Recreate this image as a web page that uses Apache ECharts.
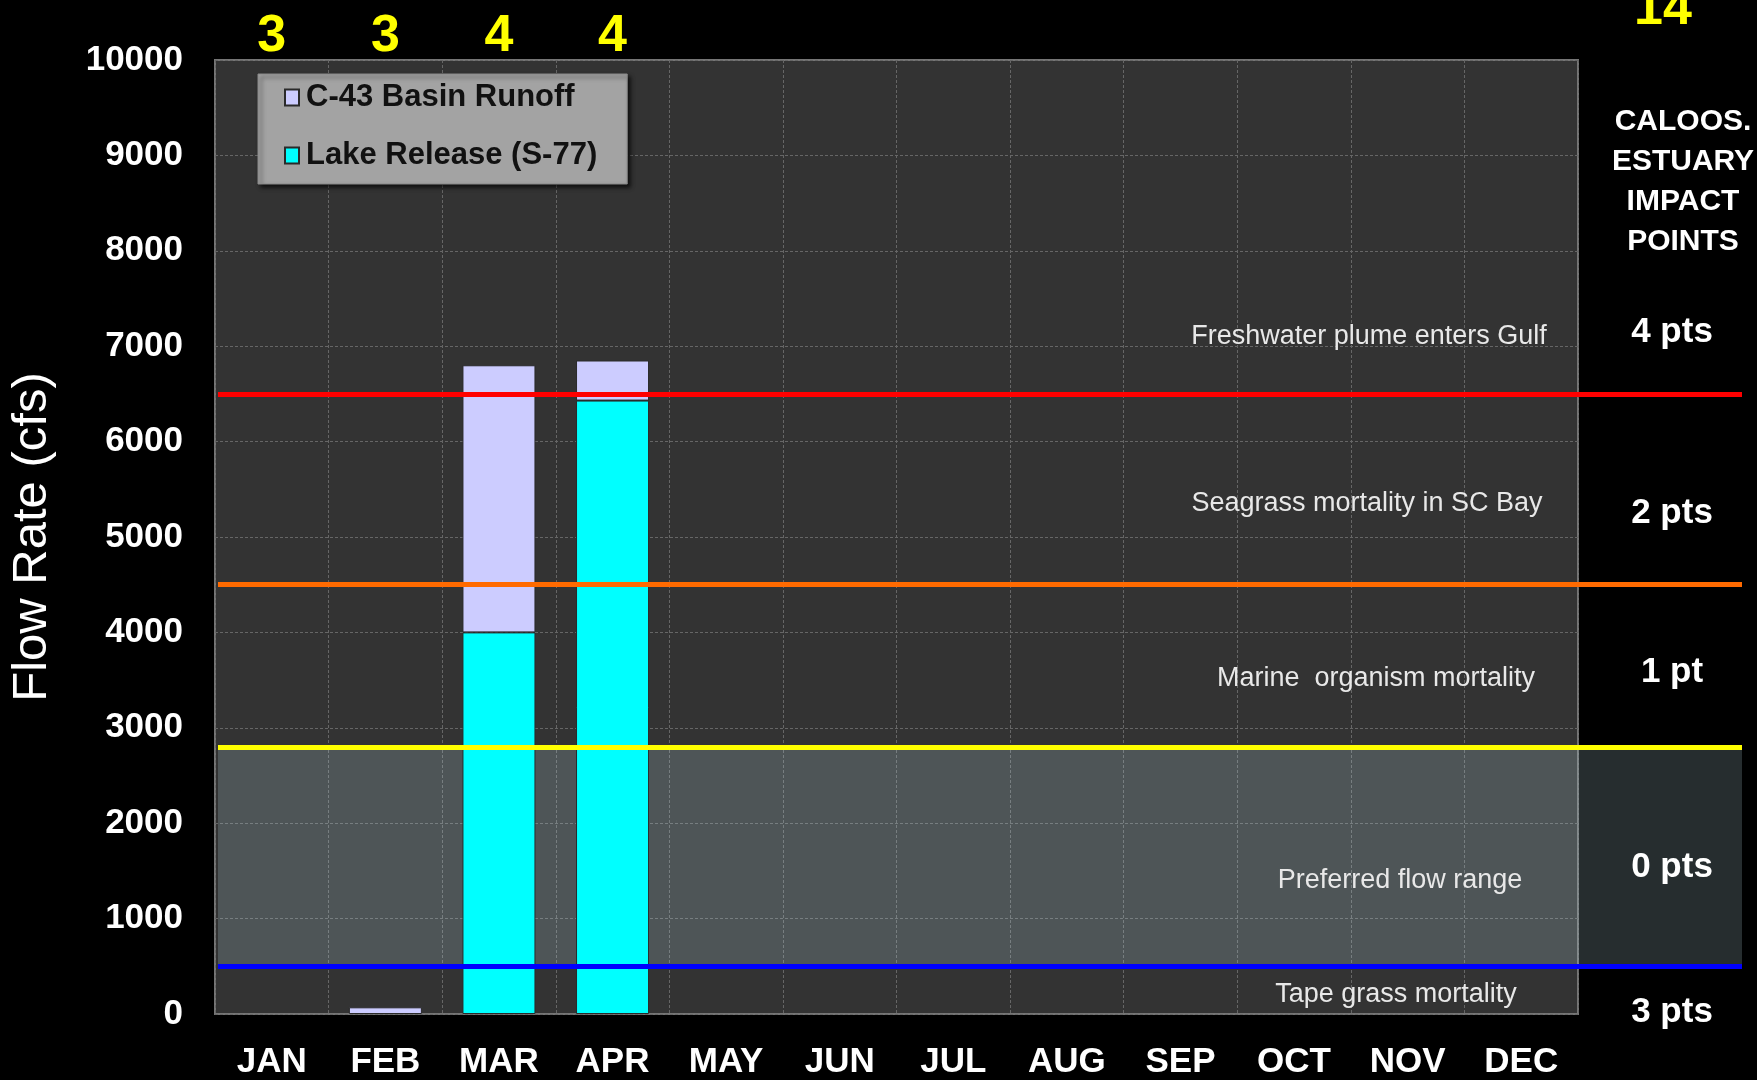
<!DOCTYPE html>
<html>
<head>
<meta charset="utf-8">
<script src="https://cdn.jsdelivr.net/npm/echarts@6/dist/echarts.min.js"></script>
<style>
  html, body { margin: 0; padding: 0; background: #000; }
  #main { width: 1757px; height: 1080px; }
</style>
</head>
<body>
<div id="main"></div>
<script>
// ---- data ----
const months = ['JAN', 'FEB', 'MAR', 'APR', 'MAY', 'JUN', 'JUL', 'AUG', 'SEP', 'OCT', 'NOV', 'DEC'];
const lakeRelease = [null, null, 4000, 6430, null, null, null, null, null, null, null, null];
const basinRunoff = [null, 70, 2800, 420, null, null, null, null, null, null, null, null];
const impactScores = ['3', '3', '4', '4', '', '', '', '', '', '', '', ''];
const totalScore = '14';
const yTicks = { min: 0, max: 10000, interval: 1000 };
const thresholdValues = [6500, 4500, 2800, 500];
const preferredRange = [500, 2800];
const zoneLabels = ['Freshwater plume enters Gulf', 'Seagrass mortality in SC Bay', 'Marine  organism mortality', 'Preferred flow range', 'Tape grass mortality'];
const zoneLabelValues = [7100, 5350, 3520, 1400, 200];
const zonePoints = ['4 pts', '2 pts', '1 pt', '0 pts', '3 pts'];
const zonePointValues = [7150, 5250, 3580, 1540, 20];
const headerLines = ['CALOOS.', 'ESTUARY', 'IMPACT', 'POINTS'];

// ---- styles ----
const thresholdColors = ['#ff0000', '#ff6a00', '#ffff00', '#0000ff'];
const FONT = '"Liberation Sans", Arial, sans-serif';
const zoneLabelX = [1369, 1367, 1376, 1400, 1396];

const chart = echarts.init(document.getElementById('main'));

const gridStyle = { color: '#666666', type: [3, 2], width: 1 };

const option = {
  backgroundColor: '#000000',
  animation: false,
  textStyle: { fontFamily: FONT },
  grid: [
    { left: 215, right: 179, top: 60, bottom: 66, show: true, backgroundColor: '#333333', borderColor: '#757575', borderWidth: 2 },
    { left: 218, right: 15, top: 60, bottom: 66, show: false }
  ],
  legend: {
    orient: 'vertical',
    left: 258, top: 74,
    data: ['C-43 Basin Runoff', 'Lake Release (S-77)'],
    backgroundColor: '#a3a3a3',
    borderColor: '#8a8a8a', borderWidth: 1,
    shadowBlur: 4, shadowColor: 'rgba(0,0,0,0.7)', shadowOffsetX: 3, shadowOffsetY: 3,
    padding: [8, 30, 13, 26],
    itemGap: 27,
    itemWidth: 14, itemHeight: 16,
    icon: 'rect',
    textStyle: { color: '#111111', fontSize: 31, fontWeight: 'bold', fontFamily: FONT, padding: [0, 0, 0, 2] }
  },
  xAxis: [
    {
      type: 'category', gridIndex: 0, data: months, position: 'bottom',
      axisLine: { show: false }, axisTick: { show: false },
      splitLine: { show: true, lineStyle: gridStyle },
      axisLabel: { color: '#ffffff', fontSize: 35, fontWeight: 'bold', margin: 31, fontFamily: FONT }
    },
    {
      type: 'category', gridIndex: 0, data: impactScores, position: 'top',
      axisLine: { show: false }, axisTick: { show: false }, splitLine: { show: false },
      axisLabel: { color: '#ffff00', fontSize: 52, fontWeight: 'bold', margin: -3, interval: 0, fontFamily: FONT }
    },
    { type: 'value', gridIndex: 1, min: 0, max: 1, show: false }
  ],
  yAxis: [
    {
      type: 'value', gridIndex: 0, min: yTicks.min, max: yTicks.max, interval: yTicks.interval,
      name: 'Flow Rate (cfs)', nameLocation: 'middle', nameGap: 158, nameRotate: 90,
      nameTextStyle: { color: '#ffffff', fontSize: 49, fontFamily: FONT },
      axisLine: { show: false }, axisTick: { show: false },
      splitLine: { show: true, lineStyle: gridStyle },
      axisLabel: { color: '#ffffff', fontSize: 35, fontWeight: 'bold', margin: 32, fontFamily: FONT,
                   formatter: v => String(v) }
    },
    { type: 'value', gridIndex: 1, min: yTicks.min, max: yTicks.max, show: false }
  ],
  series: [
    {
      name: 'Lake Release (S-77)', type: 'bar', stack: 'flow', xAxisIndex: 0, yAxisIndex: 0,
      data: lakeRelease, barWidth: 73, z: 2,
      itemStyle: { color: '#00ffff', borderColor: '#2a2a2a', borderWidth: 1 }
    },
    {
      name: 'C-43 Basin Runoff', type: 'bar', stack: 'flow', xAxisIndex: 0, yAxisIndex: 0,
      data: basinRunoff, barWidth: 73, z: 2,
      itemStyle: { color: '#ccccff', borderColor: '#2a2a2a', borderWidth: 1 }
    },
    {
      name: 'thresholds', type: 'line', xAxisIndex: 2, yAxisIndex: 1, z: 5,
      data: [], symbol: 'none', silent: true,
      markArea: {
        silent: true,
        itemStyle: { color: 'rgba(190,225,235,0.2)' },
        data: [[{ yAxis: preferredRange[0] }, { yAxis: preferredRange[1] }]]
      },
      markLine: {
        silent: true, symbol: 'none', label: { show: false },
        data: thresholdValues.map((v, i) => ({ yAxis: v, lineStyle: { color: thresholdColors[i], width: 5, type: 'solid' } }))
      }
    }
  ]
};

chart.setOption(option);

// ---- text annotations positioned through the value axis ----
const graphics = [];
zoneLabels.forEach((t, i) => {
  const y = chart.convertToPixel({ yAxisIndex: 0 }, zoneLabelValues[i]);
  graphics.push({
    type: 'text', x: zoneLabelX[i], y: y, z: 100,
    style: { text: t, fill: '#e8e8e8', font: '27px ' + FONT, textAlign: 'center', textVerticalAlign: 'middle' }
  });
});
zonePoints.forEach((t, i) => {
  const y = chart.convertToPixel({ yAxisIndex: 0 }, zonePointValues[i]);
  graphics.push({
    type: 'text', x: 1672, y: y, z: 100,
    style: { text: t, fill: '#ffffff', font: 'bold 35px ' + FONT, textAlign: 'center', textVerticalAlign: 'middle' }
  });
});
graphics.push({
  type: 'text', x: 1683, y: 102, z: 100,
  style: { text: headerLines.join('\n'), fill: '#ffffff', font: 'bold 30px ' + FONT, lineHeight: 40, textAlign: 'center', textVerticalAlign: 'top' }
});
graphics.push({
  type: 'text', x: 1663, y: 10, z: 100,
  style: { text: totalScore, fill: '#ffff00', font: 'bold 52px ' + FONT, textAlign: 'center', textVerticalAlign: 'middle' }
});
chart.setOption({ graphic: graphics });
</script>
</body>
</html>
